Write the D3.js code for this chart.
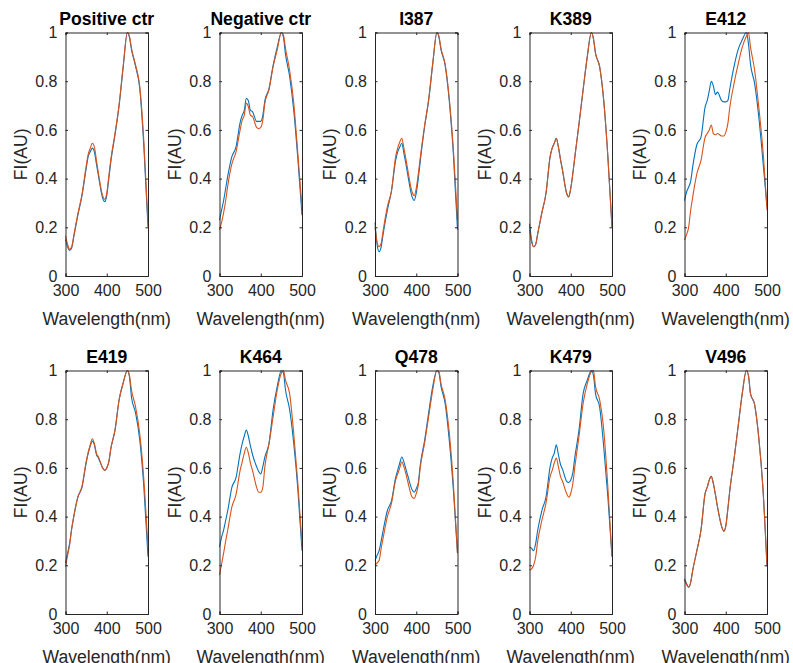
<!DOCTYPE html>
<html>
<head>
<meta charset="utf-8">
<script src="https://cdn.jsdelivr.net/npm/d3@7"></script>
<style>
  body { margin: 0; background: #fff; }
  text { font-family: "Liberation Sans", Arial, Helvetica, sans-serif; }
</style>
</head>
<body>
<svg id="chart"></svg>
<script>
// wavelength grid (nm)
var wavelength = [300,305,310,315,320,330,340,350,355,360,365,370,375,380,390,395,400,405,410,420,430,440,450,455,460,470,480,490,500];

var titles = ["Positive ctr","Negative ctr","I387","K389","E412","E419","K464","Q478","K479","V496"];

var xTicks = [300,400,500];
var yTicks = [0,0.2,0.4,0.6,0.8,1];

// blue series
var posBlue = [0.15,0.12,0.105,0.115,0.16,0.25,0.33,0.44,0.49,0.51,0.525,0.51,0.46,0.41,0.32,0.305,0.33,0.40,0.47,0.58,0.70,0.86,1.0,0.98,0.93,0.86,0.77,0.53,0.20];
var negBlue = [0.23,0.27,0.31,0.36,0.41,0.49,0.53,0.63,0.66,0.68,0.73,0.72,0.68,0.675,0.635,0.635,0.635,0.66,0.72,0.77,0.865,0.94,1.0,0.98,0.91,0.82,0.68,0.48,0.25];
var i387Blue = [0.22,0.13,0.10,0.12,0.175,0.27,0.35,0.475,0.51,0.53,0.545,0.505,0.46,0.41,0.325,0.31,0.34,0.40,0.475,0.61,0.72,0.87,1.0,0.98,0.93,0.865,0.72,0.50,0.19];
var k389Blue = [0.215,0.15,0.12,0.13,0.175,0.26,0.34,0.49,0.525,0.545,0.565,0.53,0.48,0.435,0.34,0.325,0.36,0.42,0.49,0.625,0.765,0.90,1.0,0.975,0.915,0.86,0.72,0.49,0.20];
var e412Blue = [0.31,0.345,0.365,0.39,0.45,0.54,0.57,0.695,0.72,0.76,0.80,0.78,0.745,0.755,0.72,0.715,0.715,0.72,0.77,0.86,0.93,0.97,1.0,0.955,0.87,0.79,0.655,0.475,0.285];
var e419Blue = [0.21,0.25,0.29,0.35,0.40,0.48,0.52,0.62,0.66,0.69,0.71,0.695,0.655,0.64,0.60,0.59,0.60,0.625,0.68,0.755,0.88,0.95,1.0,0.975,0.89,0.825,0.715,0.52,0.235];
var k464Blue = [0.275,0.315,0.345,0.385,0.425,0.52,0.56,0.66,0.70,0.73,0.755,0.73,0.69,0.655,0.605,0.585,0.575,0.605,0.645,0.70,0.84,0.935,1.0,0.99,0.92,0.84,0.70,0.51,0.26];
var q478Blue = [0.22,0.24,0.26,0.30,0.345,0.425,0.465,0.56,0.59,0.62,0.645,0.625,0.595,0.565,0.51,0.50,0.515,0.54,0.615,0.71,0.825,0.935,1.0,0.99,0.935,0.865,0.715,0.51,0.25];
var k479Blue = [0.275,0.27,0.26,0.29,0.345,0.425,0.48,0.605,0.64,0.66,0.695,0.655,0.615,0.595,0.545,0.54,0.55,0.58,0.645,0.755,0.905,0.96,1.0,0.98,0.905,0.85,0.685,0.48,0.235];
var v496Blue = [0.145,0.125,0.11,0.13,0.18,0.26,0.345,0.495,0.52,0.55,0.565,0.535,0.49,0.44,0.36,0.34,0.36,0.43,0.51,0.635,0.77,0.905,1.0,0.98,0.905,0.86,0.725,0.52,0.195];

// orange series
var posOrange = [0.165,0.13,0.11,0.12,0.165,0.255,0.335,0.45,0.50,0.525,0.545,0.53,0.475,0.42,0.33,0.315,0.34,0.41,0.48,0.585,0.705,0.865,1.0,0.985,0.935,0.865,0.78,0.55,0.22];
var negOrange = [0.19,0.22,0.26,0.31,0.37,0.46,0.51,0.60,0.64,0.66,0.71,0.695,0.66,0.655,0.61,0.605,0.61,0.64,0.71,0.765,0.86,0.93,1.0,0.99,0.935,0.845,0.71,0.50,0.28];
var i387Orange = [0.20,0.14,0.12,0.135,0.19,0.285,0.35,0.49,0.525,0.55,0.565,0.525,0.48,0.43,0.345,0.33,0.36,0.42,0.49,0.615,0.725,0.875,1.0,0.985,0.935,0.87,0.73,0.52,0.23];
var k389Orange = [0.19,0.14,0.12,0.13,0.175,0.26,0.34,0.49,0.525,0.545,0.565,0.53,0.48,0.435,0.34,0.325,0.36,0.42,0.49,0.625,0.765,0.90,1.0,0.975,0.915,0.86,0.72,0.49,0.20];
var e412Orange = [0.148,0.17,0.20,0.27,0.325,0.42,0.475,0.57,0.585,0.60,0.62,0.585,0.58,0.585,0.575,0.575,0.59,0.625,0.695,0.79,0.87,0.94,0.985,1.0,0.94,0.845,0.695,0.52,0.27];
var e419Orange = [0.195,0.24,0.285,0.35,0.40,0.48,0.525,0.625,0.665,0.695,0.72,0.70,0.66,0.645,0.60,0.59,0.60,0.625,0.68,0.755,0.88,0.95,1.0,0.98,0.92,0.85,0.74,0.55,0.27];
var k464Orange = [0.16,0.205,0.25,0.30,0.345,0.44,0.49,0.59,0.625,0.66,0.685,0.66,0.62,0.59,0.52,0.50,0.50,0.52,0.605,0.70,0.81,0.92,0.99,1.0,0.96,0.905,0.74,0.535,0.29];
var q478Orange = [0.20,0.21,0.22,0.27,0.315,0.40,0.455,0.55,0.575,0.60,0.625,0.605,0.575,0.54,0.48,0.475,0.495,0.53,0.605,0.70,0.81,0.92,1.0,0.995,0.945,0.88,0.745,0.535,0.25];
var k479Orange = [0.18,0.185,0.20,0.235,0.30,0.385,0.455,0.565,0.59,0.62,0.64,0.605,0.565,0.545,0.495,0.48,0.495,0.535,0.605,0.73,0.865,0.945,0.995,1.0,0.935,0.88,0.755,0.52,0.235];
var v496Orange = [0.14,0.12,0.11,0.13,0.18,0.26,0.345,0.495,0.52,0.55,0.565,0.535,0.49,0.44,0.36,0.34,0.36,0.43,0.51,0.635,0.77,0.905,1.0,0.98,0.905,0.86,0.725,0.52,0.20];

var blueSeries = [posBlue,negBlue,i387Blue,k389Blue,e412Blue,e419Blue,k464Blue,q478Blue,k479Blue,v496Blue];
var orangeSeries = [posOrange,negOrange,i387Orange,k389Orange,e412Orange,e419Orange,k464Orange,q478Orange,k479Orange,v496Orange];

var size = { width: 793, height: 663 };
var colLeft = [65.5, 219.5, 375, 529.5, 684.5];
var rowTop = [32.5, 370.5];
var pw = 82.5, ph = 243.5;

var svg = d3.select("#chart")
  .attr("width", size.width)
  .attr("height", size.height);

var x = d3.scaleLinear().domain([300, 500]).range([0, pw]);
var y = d3.scaleLinear().domain([0, 1]).range([ph, 0]);

var line = function(vals){
  return d3.line()
    .x(function(d, i){ return x(wavelength[i]); })
    .y(function(d){ return y(d); })
    .curve(d3.curveMonotoneX)(vals);
};

titles.forEach(function(title, k){
  var g = svg.append("g")
    .attr("transform", "translate(" + colLeft[k % 5] + "," + rowTop[Math.floor(k / 5)] + ")");

  // data lines
  g.append("path").attr("d", line(blueSeries[k]))
    .attr("fill", "none").attr("stroke", "#0072BD").attr("stroke-width", 1.1);
  g.append("path").attr("d", line(orangeSeries[k]))
    .attr("fill", "none").attr("stroke", "#D95319").attr("stroke-width", 1.1);

  // axes, ticks inside
  var xa = g.append("g").attr("transform", "translate(0," + ph + ")")
    .call(d3.axisBottom(x).tickValues(xTicks).tickSize(-2.5).tickPadding(8));
  var ya = g.append("g")
    .call(d3.axisLeft(y).tickValues(yTicks).tickSize(-2.5).tickPadding(8).tickFormat(d3.format("~g")));
  g.append("g")
    .call(d3.axisRight(y).tickValues(yTicks).tickSize(-2.5).tickFormat(""))
    .attr("transform", "translate(" + pw + ",0)");
  g.append("g")
    .call(d3.axisTop(x).tickValues(xTicks).tickSize(-2.5).tickFormat(""));

  g.selectAll(".domain").attr("stroke", "#262626");
  g.selectAll(".tick line").attr("stroke", "#262626");
  xa.selectAll("text").attr("font-size", 16).attr("fill", "#262626").attr("dy", "0.71em").attr("y", 9);
  ya.selectAll("text").attr("font-size", 16).attr("fill", "#262626");

  g.append("text")
    .attr("x", pw / 2).attr("y", -7.5)
    .attr("text-anchor", "middle")
    .attr("font-size", 17.6).attr("font-weight", "bold").attr("fill", "#000")
    .text(title);

  g.append("text")
    .attr("x", pw / 2).attr("y", ph + 49)
    .attr("text-anchor", "middle")
    .attr("font-size", 17.6).attr("fill", "#262626")
    .text("Wavelength(nm)");

  g.append("text")
    .attr("transform", "translate(-39," + (ph / 2) + ") rotate(-90)")
    .attr("text-anchor", "middle")
    .attr("font-size", 17.6).attr("fill", "#262626")
    .text("FI(AU)");
});
</script>
</body>
</html>
